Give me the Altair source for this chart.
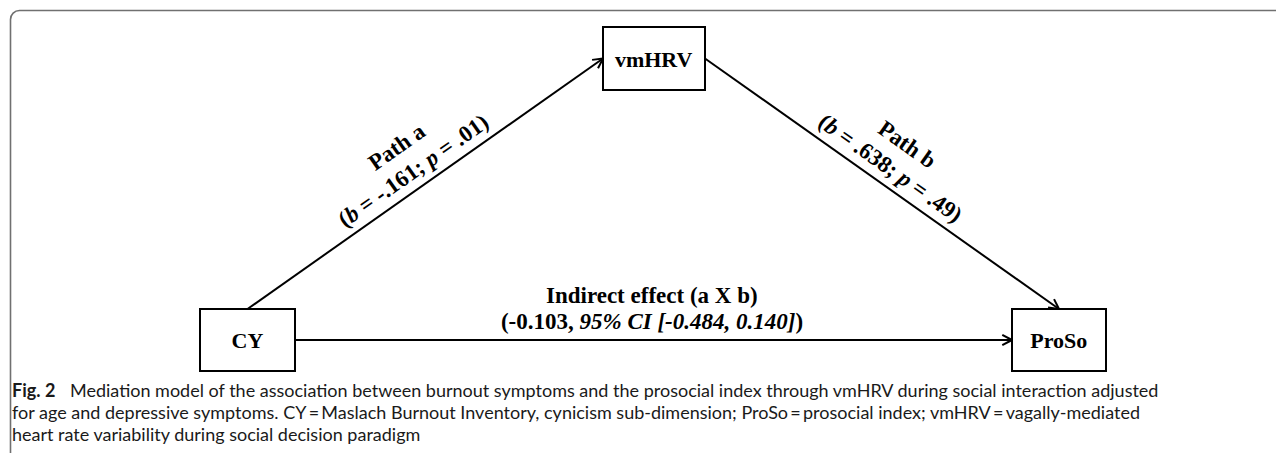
import math
import altair as alt
import pandas as pd

# ---------------- data ----------------
node_names = ["vmHRV", "CY", "ProSo"]
node_x0 = [603, 200, 1012]
node_x1 = [705, 295, 1106]
node_y0 = [27, 309, 309]
node_y1 = [90, 371, 371]

# edges: (from node, anchor side) -> (to node, anchor side)
edge_from = ["CY", "vmHRV", "CY"]
edge_from_side = ["top", "right", "right"]
edge_to = ["vmHRV", "ProSo", "ProSo"]
edge_to_side = ["left", "top", "left"]

path_titles = ["Path a", "Path b"]
path_a_stats = [("(", "n"), ("b", "i"), (" = -.161; ", "n"), ("p", "i"), (" = .01)", "n")]
path_b_stats = [("(", "n"), ("b", "i"), (" = .638; ", "n"), ("p", "i"), (" = .49)", "n")]
indirect_title = "Indirect effect (a X b)"
indirect_stats = [("(-0.103, ", "n"), ("95% CI [-0.484, 0.140]", "i"), (")", "n")]

caption_bold = "Fig. 2"
caption_lines = [
    "Mediation model of the association between burnout symptoms and the prosocial index through vmHRV during social interaction adjusted",
    "for age and depressive symptoms. CY\u2009=\u2009Maslach Burnout Inventory, cynicism sub-dimension; ProSo\u2009=\u2009prosocial index; vmHRV\u2009=\u2009vagally-mediated",
    "heart rate variability during social decision paradigm",
]

# ---------------- layout helpers ----------------
W, H = 1268, 445
SERIF = "Liberation Serif"
LABEL_SIZE = 23
BOX_SIZE = 22

# Times (Liberation Serif) bold / bold-italic advance widths (per em)
bold_w = {' ': .25, '(': .333, ')': .333, '-': .333, '.': .25, ',': .25, ';': .333, '=': .57,
          'b': .556, 'p': .556, 'P': .611, 'a': .5, 't': .333, 'h': .556, '[': .333, ']': .333,
          '%': 1.0, 'C': .722, 'I': .389, 'X': .722, 'n': .556, 'd': .556, 'i': .278, 'r': .444,
          'e': .444, 'c': .444, 'f': .333, 'v': .5, 'm': .833, 'H': .778, 'R': .722, 'V': .722,
          'Y': .722, 'o': .5, 'S': .556}
ital_w = {' ': .25, 'b': .5, 'p': .5, '%': .833, 'C': .667, 'I': .389, '[': .333, ']': .333,
          '-': .333, '.': .25, ',': .25}


def text_w(s, style, size):
    tab = ital_w if style == "i" else bold_w
    return sum(tab.get(ch, .5) for ch in s) * size


box = {n: (x0, x1, y0, y1) for n, x0, x1, y0, y1 in zip(node_names, node_x0, node_x1, node_y0, node_y1)}


def anchor(n, side):
    x0, x1, y0, y1 = box[n]
    cx, cy = (x0 + x1) / 2, (y0 + y1) / 2
    return {"top": (cx, y0), "bottom": (cx, y1), "left": (x0, cy), "right": (x1, cy)}[side]


edges = []
for f, fs, t, ts in zip(edge_from, edge_from_side, edge_to, edge_to_side):
    (xa, ya), (xb, yb) = anchor(f, fs), anchor(t, ts)
    edges.append((xa, ya, xb, yb))

rows_seg = []


def layout(segments, cx, cy, angle_deg, size):
    th = math.radians(angle_deg)
    dx, dy = math.cos(th), math.sin(th)
    total = sum(text_w(s, st, size) for s, st in segments)
    pos = -total / 2
    for s, st in segments:
        lead = len(s) - len(s.lstrip(" "))
        p = pos + text_w(" " * lead, st, size)
        shown = s.strip(" ")
        if shown:
            rows_seg.append({"x": cx + p * dx, "y": cy + p * dy, "text": shown,
                             "angle": angle_deg % 360, "style": st, "size": size})
        pos += text_w(s, st, size)


# box labels
for n in node_names:
    x0, x1, y0, y1 = box[n]
    layout([(n, "n")], (x0 + x1) / 2, (y0 + y1) / 2 + 1, 0, BOX_SIZE)

# path labels
for k, (title, stats) in enumerate(zip(path_titles, [path_a_stats, path_b_stats])):
    xa, ya, xb, yb = edges[k]
    L = math.hypot(xb - xa, yb - ya)
    ux, uy = (xb - xa) / L, (yb - ya) / L
    ang = math.degrees(math.atan2(uy, ux))
    nx, ny = uy, -ux  # "above" in text frame
    t = 0.495
    px, py = xa + (xb - xa) * t, ya + (yb - ya) * t
    layout([(title, "n")], px + nx * 46, py + ny * 46, ang, LABEL_SIZE)
    layout(stats, px + nx * 17, py + ny * 17, ang, LABEL_SIZE)

# indirect effect labels
mid = 652
layout([(indirect_title, "n")], mid, 296, 0, LABEL_SIZE)
layout(indirect_stats, mid, 322, 0, LABEL_SIZE)

seg_df = pd.DataFrame(rows_seg)

# lines and arrowheads
line_rows = []
for xa, ya, xb, yb in edges:
    line_rows.append({"x": xa, "y": ya, "x2": xb, "y2": yb})
    L = math.hypot(xb - xa, yb - ya)
    ux, uy = (xb - xa) / L, (yb - ya) / L
    for s in (1, -1):
        a = math.radians(28 * s)
        bx = -(ux * math.cos(a) - uy * math.sin(a))
        by = -(ux * math.sin(a) + uy * math.cos(a))
        line_rows.append({"x": xb, "y": yb, "x2": xb + 11 * bx, "y2": yb + 11 * by})
line_df = pd.DataFrame(line_rows)

box_df = pd.DataFrame({"x": node_x0, "x2": node_x1, "y": node_y0, "y2": node_y1})
frame_df = pd.DataFrame({"x": [10.5], "x2": [1320], "y": [10.5], "y2": [500]})

cap_df = pd.DataFrame({
    "x": [12, 70, 12, 12],
    "y": [392, 392, 414, 436],
    "text": [caption_bold] + caption_lines,
    "bold": [True, False, False, False],
})

# ---------------- chart ----------------
xs = alt.Scale(domain=[8, 8 + W])
ys = alt.Scale(domain=[8, 8 + H], reverse=True)
X = lambda f: alt.X(f, type="quantitative", scale=xs, axis=None)
Y = lambda f: alt.Y(f, type="quantitative", scale=ys, axis=None)

frame = alt.Chart(frame_df).mark_rect(
    fillOpacity=0, stroke="#707070", strokeWidth=1.6, cornerRadius=9, clip=True
).encode(x=X("x"), x2="x2", y=Y("y"), y2="y2")

lines = alt.Chart(line_df).mark_rule(color="black", strokeWidth=2).encode(
    x=X("x"), x2="x2", y=Y("y"), y2="y2")

boxes = alt.Chart(box_df).mark_rect(fill="white", stroke="black", strokeWidth=2).encode(
    x=X("x"), x2="x2", y=Y("y"), y2="y2")


def seg_layer(style):
    kw = dict(font=SERIF, fontWeight="bold", align="left", baseline="middle", color="black")
    if style == "i":
        kw["fontStyle"] = "italic"
    return alt.Chart(seg_df[seg_df["style"] == style]).mark_text(**kw).encode(
        x=X("x"), y=Y("y"), text="text:N",
        angle=alt.Angle("angle:Q", scale=None),
        size=alt.Size("size:Q", scale=None, legend=None))


cap_font = "Lato"
cap_size = 18
cap_color = "#1a1a1a"
cap_bold = alt.Chart(cap_df[cap_df["bold"]]).mark_text(
    font=cap_font, fontSize=cap_size, fontWeight="bold", align="left", baseline="middle", color=cap_color
).encode(x=X("x"), y=Y("y"), text="text:N")
cap_norm = alt.Chart(cap_df[~cap_df["bold"]]).mark_text(
    font=cap_font, fontSize=cap_size, align="left", baseline="middle", color=cap_color
).encode(x=X("x"), y=Y("y"), text="text:N")

chart = alt.layer(frame, lines, boxes, seg_layer("n"), seg_layer("i"), cap_bold, cap_norm).properties(
    width=W, height=H, padding=0, autosize=alt.AutoSizeParams(type="none")
).configure_view(stroke=None)

chart.save("out.html", embed_options={"renderer": "svg", "actions": False})
